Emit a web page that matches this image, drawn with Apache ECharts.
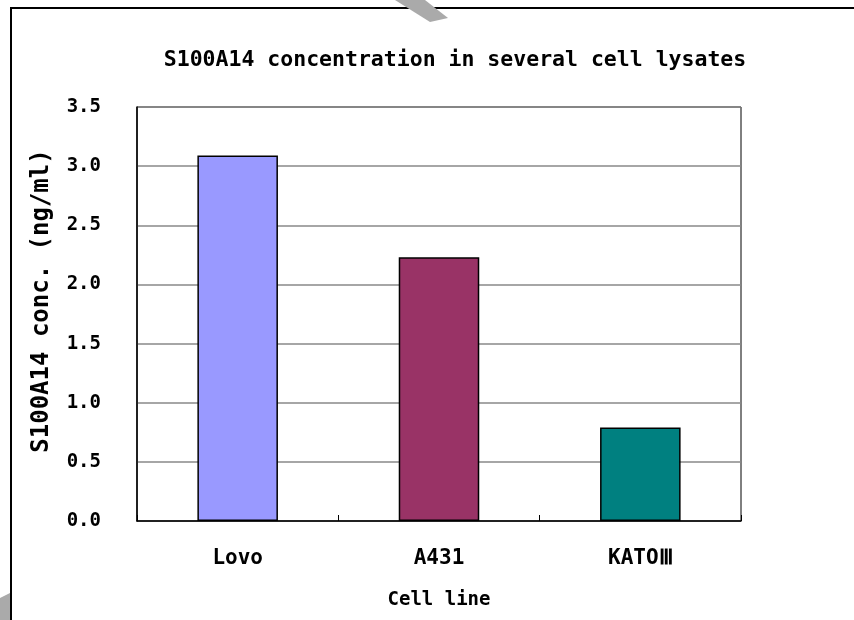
<!DOCTYPE html>
<html><head><meta charset="utf-8">
<script src="https://cdn.jsdelivr.net/npm/echarts@6/dist/echarts.min.js"></script>
<style>html,body{margin:0;padding:0;background:#fff}#c{width:854px;height:620px}</style>
</head><body><div id="c"></div>
<script>
const categories = ['Lovo', 'A431', 'KATOⅢ'];
const values = [3.09, 2.23, 0.79];
const barColors = ['#9999FF', '#993366', '#008080'];
const titleText = 'S100A14 concentration in several cell lysates';
const yName = 'S100A14 conc. (ng/ml)';
const xName = 'Cell line';

const F = '"DejaVu Sans Mono", monospace';
const chart = echarts.init(document.getElementById('c'));
chart.setOption({
  animation: false,
  backgroundColor: '#fff',
  title: { text: titleText, left: 450, textAlign: 'center', top: 44,
    textStyle: { fontFamily: F, fontSize: 21.5, fontWeight: 'bold', color: '#000' } },
  graphic: [
    { type: 'rect', shape: { x: 11, y: 8, width: 900, height: 700 }, style: { fill: 'none', stroke: '#000', lineWidth: 2 }, z: 10 },
    { type: 'polygon', shape: { points: [[395,0],[425,0],[448,18],[430,22]] }, style: { fill: '#aaa' }, z: 11 },
    { type: 'polygon', shape: { points: [[0,598],[10,593],[10,620],[0,620]] }, style: { fill: '#aaa' }, z: 11 }
  ],
  grid: { left: 137, right: 113, top: 107, bottom: 99, show: true, borderColor: '#000', borderWidth: 1 },
  xAxis: {
    type: 'category', data: categories,
    name: xName, nameLocation: 'middle', nameGap: 70,
    nameTextStyle: { fontFamily: F, fontSize: 19, fontWeight: 'bold', color: '#000' },
    axisLine: { lineStyle: { color: '#000', width: 1.5 } },
    axisTick: { show: true, inside: true, length: 6, lineStyle: { color: '#000' } },
    axisLabel: { fontFamily: F, fontSize: 21, fontWeight: 'bold', color: '#000', margin: 27 }
  },
  yAxis: {
    type: 'value', min: 0, max: 3.5, interval: 0.5,
    name: yName, nameLocation: 'middle', nameGap: 83, nameRotate: 90,
    nameTextStyle: { fontFamily: F, fontSize: 24, fontWeight: 'bold', color: '#000', padding: [0, 0, 0, 26] },
    axisLine: { show: true, lineStyle: { color: '#000', width: 1.5 } },
    axisTick: { show: false },
    splitLine: { lineStyle: { color: '#888', width: 1.5 } },
    axisLabel: { fontFamily: F, fontSize: 19, fontWeight: 'bold', color: '#000', margin: 36,
      formatter: v => v.toFixed(1) }
  },
  series: [{
    type: 'bar', barWidth: '40%',
    data: values.map((v, i) => ({ value: v, itemStyle: { color: barColors[i] } })),
    itemStyle: { borderColor: '#000', borderWidth: 1.5 }
  }]
});
</script></body></html>
